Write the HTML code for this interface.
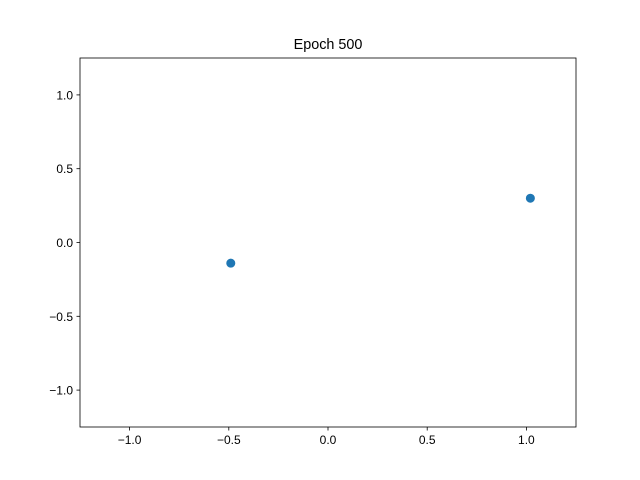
<!DOCTYPE html>
<html><head><meta charset="utf-8"><style>
body{margin:0;background:#fff;}
svg{display:block;font-family:"Liberation Sans","DejaVu Sans",sans-serif;}
</style></head><body>
<svg id="chart" width="640" height="480" viewBox="0 0 640 480">
<rect width="640" height="480" fill="#fff"/>
<text x="328" y="49" font-size="14.4" text-anchor="middle" fill="#000">Epoch 500</text>
<g id="xticks"></g>
<g id="yticks"></g>
<g id="points"></g>
<rect x="80" y="58" width="496" height="369" fill="none" stroke="#000" stroke-width="0.8"/>
</svg>
<script>
const xs = [-0.49, 1.02];
const ys = [-0.14, 0.30];
const xTickLabels = ["−1.0","−0.5","0.0","0.5","1.0"];
const xTickValues = [-1,-0.5,0,0.5,1];
const yTickLabels = ["−1.0","−0.5","0.0","0.5","1.0"];
const yTickValues = [-1,-0.5,0,0.5,1];
const NS="http://www.w3.org/2000/svg";
const L=80,R=576,T=58,B=427,min=-1.25,max=1.25;
function sx(v){return L+(v-min)/(max-min)*(R-L);}
function sy(v){return B-(v-min)/(max-min)*(B-T);}
function mk(tag,attrs,parent){const e=document.createElementNS(NS,tag);for(const k in attrs)e.setAttribute(k,attrs[k]);parent.appendChild(e);return e;}
const gx=document.getElementById('xticks'),gy=document.getElementById('yticks'),gp=document.getElementById('points');
xTickValues.forEach((v,i)=>{
  const x=sx(v);
  const l=mk('line',{x1:x,x2:x,y1:B,y2:B+3.5,stroke:'#000','stroke-width':0.8},gx);
  
  
  const t=mk('text',{x:x,y:B+17,'font-size':12,'text-anchor':'middle',fill:'#000'},gx);
  t.textContent=xTickLabels[i];
  
  
});
yTickValues.forEach((v,i)=>{
  const y=sy(v);
  const l=mk('line',{x1:L-3.5,x2:L,y1:y,y2:y,stroke:'#000','stroke-width':0.8},gy);
  
  
  const t=mk('text',{x:L-7,y:y+4.5,'font-size':12,'text-anchor':'end',fill:'#000'},gy);
  t.textContent=yTickLabels[i];
  
  
});
xs.forEach((v,i)=>{
  const c=mk('circle',{cx:sx(v),cy:sy(ys[i]),r:4.5,fill:'#1f77b4'},gp);
  
  
});
</script>
</body></html>
